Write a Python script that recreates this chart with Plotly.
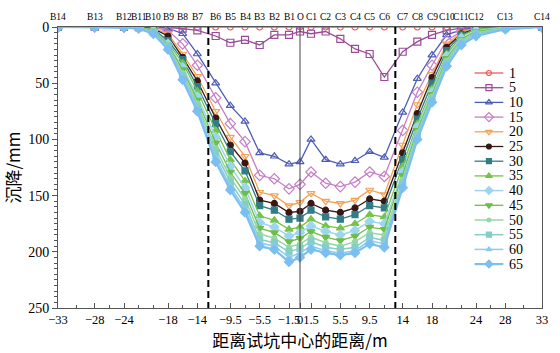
import plotly.graph_objects as go

# Measuring points along the survey line (distance from pit centre, m)
positions = [-33, -28, -24, -22, -20, -18, -16, -14, -11.5, -9.5, -7.5, -5.5, -3.5, -1.5, 0,
             1.5, 3.5, 5.5, 7.5, 9.5, 11.5, 14, 16, 18, 20, 22, 24, 28, 33]
point_names = ["B14", "B13", "B12", "B11", "B10", "B9", "B8", "B7", "B6", "B5", "B4", "B3", "B2", "B1", "O",
               "C1", "C2", "C3", "C4", "C5", "C6", "C7", "C8", "C9", "C10", "C11", "C12", "C13", "C14"]

# Settlement (mm) for each series
s1 = [0] * 29
s5 = [0, 0, 0, 0, 0, 0.5, 1.5, 3, 8, 14, 11.5, 16, 7, 7, 4, 6, 4, 10.5, 19.5, 24, 44.5, 22, 13, 7, 3, 1, 0.5, 0, 0]
s10 = [0, 0, 0, 0, 0, 1, 6, 24, 50, 70, 84, 112, 115, 122, 120, 100, 118, 122, 119, 111, 116, 76, 46, 25, 7, 2.5, 0.5, 0, 0]
s15 = [0, 0, 0, 0, 0.5, 3, 15, 34, 63, 86, 102, 132, 135, 144, 140, 129, 139, 142, 138, 129, 133, 92, 58, 34, 12, 4, 1, 0, 0]
s20 = [0, 0, 0, 0, 1, 6, 24, 44, 75, 98, 115, 147, 150, 159, 156, 148, 155, 157, 154, 145, 149, 105, 69, 42, 15, 5, 1, 0, 0]
s25 = [0, 0, 0, 0, 1.5, 8, 27, 48, 81, 105, 121, 154, 157, 165, 164, 157, 163, 165, 161, 153, 155, 112, 77, 45, 18, 6, 1.5, 0, 0]
s30 = [0, 0, 0, 0, 2, 12, 29, 53, 86, 111, 128, 159, 163, 171, 170, 163, 169, 171, 167, 159, 161, 118, 82, 50, 21, 7, 2, 0, 0]
s35 = [0, 0, 0, 0, 2.5, 14, 32, 57, 92, 118, 137, 168, 172, 180, 178, 171, 177, 179, 175, 167, 169, 124, 86, 55, 24, 8, 2, 0, 0]
s40 = [0, 0, 0, 0.5, 3, 15, 36, 62, 98, 124, 143, 174, 178, 186, 183, 177, 182, 185, 181, 173, 175, 129, 89, 58, 26, 10, 3, 0.5, 0]
s45 = [0, 0, 0, 0.5, 3.5, 16, 38, 65, 103, 129, 148, 179, 183, 191, 188, 182, 187, 190, 186, 178, 180, 132, 92, 60, 28, 11, 4, 1, 0]
s50 = [0, 0, 0, 1, 4, 17, 41, 68, 108, 134, 153, 184, 188, 196, 193, 187, 192, 195, 191, 183, 185, 136, 94, 62, 30, 12, 5, 1, 0]
s55 = [0, 0, 0, 1, 5, 18, 43, 71, 112, 138, 158, 189, 192, 200, 197, 191, 196, 198, 196, 187, 190, 139, 96, 64, 32, 14, 6, 1.5, 0]
s60 = [0, 0, 0.5, 1, 5.5, 19, 45, 73, 116, 142, 162, 192, 195, 205, 201, 195, 199, 201, 199, 190, 193, 141, 98, 66, 34, 15, 7, 2, 0]
s65 = [0, 0, 0.5, 1.5, 6, 20, 47, 75, 120, 145, 165, 195, 198, 209, 205, 198, 201, 203, 201, 193, 196, 143, 100, 67, 35, 16, 8, 2, 0]

series_names = ["1", "5", "10", "15", "20", "25", "30", "35", "40", "45", "50", "55", "60", "65"]
series_values = [s1, s5, s10, s15, s20, s25, s30, s35, s40, s45, s50, s55, s60, s65]

# Axis ticks
x_tick_vals = [-33, -28, -24, -18, -14, -9.5, -5.5, -1.5, 0, 1.5, 5.5, 9.5, 14, 18, 24, 28, 33]
x_tick_text = ["−33", "−28", "−24", "−18", "−14", "−9.5", "−5.5", "−1.5", "0", "1.5", "5.5", "9.5",
               "14", "18", "24", "28", "33"]
x_minor_vals = [-30.5, -26, -22, -20, -16, -11.5, -7.5, -3.5, 3.5, 7.5, 11.5, 16, 20, 22, 26, 30.5]
y_tick_vals = [0, 50, 100, 150, 200, 250]

# Pit boundary lines (m)
pit_edges = [-12.5, 13]

styles = [
    dict(color="#f05a5a", symbol="circle-open", size=6, width=1.3),
    dict(color="#9a4c98", symbol="square-open", size=7, width=1.3),
    dict(color="#4d5cb4", symbol="triangle-up-open", size=7, width=1.3),
    dict(color="#c67ec6", symbol="diamond-open", size=8, width=1.3),
    dict(color="#f4a256", symbol="triangle-down-open", size=7, width=1.3),
    dict(color="#3a1717", symbol="circle", size=6, width=1.3),
    dict(color="#327c86", symbol="square", size=6, width=1.3),
    dict(color="#74c448", symbol="triangle-up", size=7, width=1.3),
    dict(color="#9cd6ee", symbol="diamond", size=7, width=1.5),
    dict(color="#6cbe48", symbol="triangle-down", size=7, width=1.3),
    dict(color="#96d6a6", symbol="circle", size=5, width=1.5),
    dict(color="#84cec4", symbol="square", size=6, width=1.5),
    dict(color="#8ccdee", symbol="triangle-up", size=6, width=1.5),
    dict(color="#7cbef0", symbol="diamond", size=7, width=2.2),
]

SERIF = "Liberation Serif"
CJK = "Noto Sans CJK SC"

fig = go.Figure()

for name, vals, st in zip(series_names, series_values, styles):
    fig.add_trace(go.Scatter(
        x=positions, y=vals, mode="lines+markers", name=name, showlegend=False,
        line=dict(color=st["color"], width=st["width"]),
        marker=dict(symbol=st["symbol"], size=st["size"], color=st["color"],
                    line=dict(color=st["color"], width=1.2)),
    ))

# Hand-built legend drawn on an overlay axis measured in canvas pixels
LEG_X0, LEG_X1, LEG_TOP, LEG_STEP, LEG_TEXT_X = 477, 506, 73, 14.7, 510
for i, (name, st) in enumerate(zip(series_names, styles)):
    yy = LEG_TOP + i * LEG_STEP
    fig.add_trace(go.Scatter(
        x=[LEG_X0, LEG_X1], y=[yy, yy], mode="lines", xaxis="x2", yaxis="y2",
        showlegend=False, hoverinfo="skip",
        line=dict(color=st["color"], width=st["width"]),
    ))
    fig.add_trace(go.Scatter(
        x=[(LEG_X0 + LEG_X1) / 2], y=[yy], mode="markers", xaxis="x2", yaxis="y2",
        showlegend=False, hoverinfo="skip",
        marker=dict(symbol=st["symbol"], size=st["size"] - 1, color=st["color"],
                    line=dict(color=st["color"], width=1.2)),
    ))
    fig.add_annotation(x=LEG_TEXT_X, y=yy, xref="x2", yref="y2", text=name, showarrow=False,
                       xanchor="left", yanchor="middle", font=dict(family=SERIF, size=14, color="black"))

shapes = []
for xe in pit_edges:
    shapes.append(dict(type="line", xref="x", yref="y", x0=xe, x1=xe, y0=0, y1=250,
                       line=dict(color="black", width=2, dash="7px,4px")))
shapes.append(dict(type="line", xref="x", yref="y", x0=0, x1=0, y0=0, y1=250,
                   line=dict(color="#444444", width=1)))
fig.update_layout(shapes=shapes)

# Point names along the top edge
for xp, nm in zip(positions, point_names):
    fig.add_annotation(x=xp, y=1, xref="x", yref="paper", text=nm, showarrow=False,
                       yanchor="bottom", yshift=3, font=dict(family=SERIF, size=9.5, color="black"))

# Pit boundary captions
for xe, side in zip(pit_edges, ["right", "left"]):
    fig.add_annotation(x=xe, y=257, xref="x", yref="y", text="试<br>坑<br>边<br>界", showarrow=False,
                       xanchor=side, yanchor="middle", xshift=-5 if side == "right" else 5,
                       font=dict(family=CJK, size=13, color="black"))

fig.update_layout(
    width=560, height=353,
    margin=dict(l=57, r=15, t=27, b=45),
    paper_bgcolor="white", plot_bgcolor="white",
    xaxis=dict(
        range=[-33, 33], tickmode="array", tickvals=x_tick_vals, ticktext=x_tick_text, tickangle=0,
        showgrid=False, zeroline=False, showline=True, linecolor="#555555", linewidth=1,
        mirror=True, ticks="inside", ticklen=5, tickcolor="#555555",
        minor=dict(tickmode="array", tickvals=x_minor_vals, ticks="inside", ticklen=3, tickcolor="#555555"),
        tickfont=dict(family=SERIF, size=12.5, color="black"),
        title=dict(text="距离试坑中心的距离/m", font=dict(family=CJK, size=17, color="black"), standoff=2),
    ),
    yaxis=dict(
        range=[250, 0], tickmode="array", tickvals=y_tick_vals,
        showgrid=False, zeroline=False, showline=True, linecolor="#555555", linewidth=1,
        mirror=True, ticks="outside", ticklen=5, tickcolor="#555555",
        minor=dict(dtick=5, ticks="outside", ticklen=3, tickcolor="#555555"),
        tickfont=dict(family=SERIF, size=14, color="black"),
        title=dict(text="沉降/mm", font=dict(family=CJK, size=17, color="black"), standoff=4),
    ),
    xaxis2=dict(domain=[0, 1], range=[57, 545], visible=False, anchor="y2", overlaying="x"),
    yaxis2=dict(domain=[0, 1], range=[308, 27], visible=False, anchor="x2", overlaying="y"),
)

fig.write_html("out.html")
